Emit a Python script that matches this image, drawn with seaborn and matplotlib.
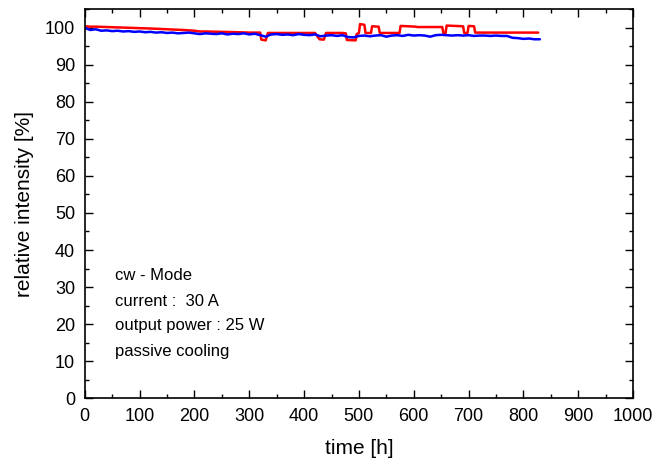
import numpy as np
import pandas as pd
import matplotlib
matplotlib.use('Agg')
import matplotlib.pyplot as plt
import seaborn as sns
from matplotlib.ticker import MultipleLocator

# red curve (step-like)
red_time = [0, 10, 20, 40, 60, 80, 100, 120, 150, 180, 200, 210, 220, 250, 280,
            300, 320, 322, 330, 334, 340, 380, 420, 428, 436, 440, 470, 476, 478,
            494, 496, 500, 502, 510, 512, 522, 524, 536, 538, 574, 576, 604, 606,
            652, 654, 658, 660, 690, 692, 698, 700, 710, 712, 760, 800, 827]
red_val = [100.4, 100.3, 100.3, 100.2, 100.1, 100.0, 99.9, 99.8, 99.6, 99.4, 99.2,
           99.0, 99.0, 98.9, 98.8, 98.7, 98.7, 96.8, 96.6, 98.6, 98.6, 98.6, 98.6,
           96.9, 96.8, 98.6, 98.6, 98.5, 96.7, 96.6, 98.3, 98.6, 101.0, 100.8, 98.6,
           98.6, 100.4, 100.3, 98.6, 98.6, 100.5, 100.3, 100.2, 100.2, 98.6, 98.6,
           100.6, 100.4, 98.6, 98.6, 100.5, 100.4, 98.7, 98.7, 98.7, 98.7]

# blue curve
blue_time = list(range(0, 831, 10))
blue_val = [100.0, 99.4, 99.6, 99.2, 99.3, 99.1, 99.2, 99.0, 99.1, 98.9, 99.0,
            98.8, 98.9, 98.7, 98.8, 98.6, 98.7, 98.5, 98.6, 98.7, 98.5, 98.3,
            98.5, 98.4, 98.3, 98.5, 98.2, 98.4, 98.3, 98.5, 98.2, 98.4, 98.0,
            97.6, 98.2, 98.3, 98.1, 98.2, 98.0, 98.3, 98.1, 98.0, 98.2, 97.7,
            97.9, 98.0, 97.8, 98.0, 97.5, 97.4, 97.8, 97.9, 97.7, 97.9, 98.0,
            97.6, 97.9, 98.0, 97.8, 98.1, 97.9, 98.0, 97.9, 97.6, 98.0, 98.1,
            98.0, 97.9, 98.0, 97.9, 98.0, 97.8, 97.9, 97.9, 97.8, 97.9, 97.8,
            97.8, 97.3, 97.2, 97.0, 97.1, 96.9, 96.9]

annot_lines = ['cw - Mode', 'current :  30 A', 'output power : 25 W', 'passive cooling']
annot_y = [33.0, 26.2, 19.5, 12.7]

sns.set_style('ticks')
plt.rcParams['font.family'] = ['Liberation Sans', 'DejaVu Sans']
plt.rcParams.update({
    'text.color': 'black',
    'axes.labelcolor': 'black',
    'xtick.color': 'black',
    'ytick.color': 'black',
})

fig = plt.figure(figsize=(6.52, 4.63), dpi=100)
ax = fig.add_axes([0.130, 0.140, 0.841, 0.840])

red_df = pd.DataFrame({'time': red_time, 'val': red_val})
blue_df = pd.DataFrame({'time': blue_time, 'val': blue_val})
sns.lineplot(data=red_df, x='time', y='val', ax=ax, color='#ff0000', linewidth=1.8)
sns.lineplot(data=blue_df, x='time', y='val', ax=ax, color='#0000ff', linewidth=1.8)

ax.set_xlim(0, 1000)
ax.set_ylim(0, 105)
ax.xaxis.set_major_locator(MultipleLocator(100))
ax.xaxis.set_minor_locator(MultipleLocator(50))
ax.yaxis.set_major_locator(MultipleLocator(10))
ax.yaxis.set_minor_locator(MultipleLocator(5))
ax.tick_params(which='both', direction='in', top=True, right=True, labelsize=13,
               color='black', labelcolor='black', width=1, pad=7)
ax.tick_params(which='major', length=6)
ax.tick_params(which='minor', length=3)
for s in ax.spines.values():
    s.set_linewidth(1.2)
    s.set_color('black')

ax.set_xlabel('time [h]', fontsize=15, labelpad=10, color='black')
ax.set_ylabel('relative intensity [%]', fontsize=15, labelpad=8, color='black')

for txt, yy in zip(annot_lines, annot_y):
    ax.text(55, yy, txt, fontsize=12, va='center', ha='left', color='black')

fig.savefig('out.png', dpi=100)
